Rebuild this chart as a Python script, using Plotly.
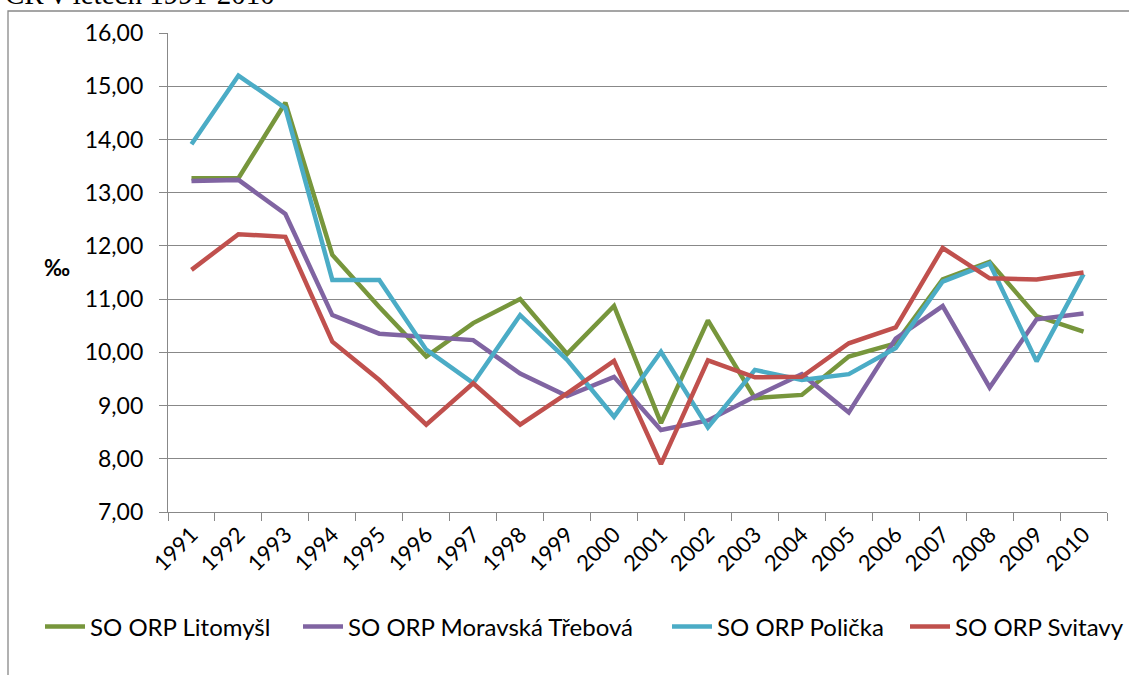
import plotly.graph_objects as go

years = [str(y) for y in range(1991, 2011)]
litomysl = [13.27, 13.27, 14.69, 11.83, 10.85, 9.92, 10.55, 11.00, 9.97, 10.87,
            8.67, 10.60, 9.14, 9.20, 9.92, 10.17, 11.37, 11.70, 10.68, 10.39]
moravska = [13.22, 13.24, 12.60, 10.70, 10.35, 10.30, 10.23, 9.60, 9.18, 9.54,
            8.54, 8.72, 9.17, 9.59, 8.87, 10.26, 10.87, 9.34, 10.62, 10.73]
policka = [13.91, 15.20, 14.59, 11.36, 11.36, 10.05, 9.42, 10.70, 9.86, 8.79,
           10.01, 8.59, 9.67, 9.48, 9.59, 10.08, 11.33, 11.67, 9.83, 11.47]
svitavy = [11.55, 12.22, 12.17, 10.20, 9.48, 8.64, 9.42, 8.64, 9.23, 9.84,
           7.90, 9.85, 9.53, 9.54, 10.17, 10.47, 11.96, 11.39, 11.37, 11.50]

series_names = ["SO ORP Litomyšl", "SO ORP Moravská Třebová", "SO ORP Polička", "SO ORP Svitavy"]
series_vals = [litomysl, moravska, policka, svitavy]
colors = ["#77963C", "#8064A2", "#4BACC6", "#C0504D"]
legend_ids = ["legend", "legend2", "legend3", "legend4"]
legend_px = [40, 298, 667, 905]

W, H = 1129, 675
ML, MR, MT, MB = 168, 22, 33, 163
PW = W - ML - MR
PH = H - MT - MB


def px_x(p):
    return (p - ML) / PW


def px_y(p):
    return (H - MB - p) / PH


fig = go.Figure()
for name, vals, c, lg in zip(series_names, series_vals, colors, legend_ids):
    fig.add_trace(go.Scatter(x=years, y=vals, name=name, mode="lines", legend=lg,
                             line=dict(color=c, width=4.5)))

font_family = "Lato, Carlito, Calibri, sans-serif"
grid_c = "#888888"

legend_layout = {}
for lg, lx in zip(legend_ids, legend_px):
    legend_layout[lg] = dict(orientation="h", x=px_x(lx), xanchor="left", y=px_y(627), yanchor="middle",
                             font=dict(family=font_family, size=24, color="black"),
                             itemwidth=40, bgcolor="rgba(0,0,0,0)")

fig.update_layout(
    width=W, height=H,
    margin=dict(l=ML, r=MR, t=MT, b=MB, pad=0, autoexpand=False),
    paper_bgcolor="white", plot_bgcolor="white",
    separators=", ",
    showlegend=True,
    **legend_layout,
    xaxis=dict(type="category", range=[-0.5, 19.5], showgrid=False,
               showline=True, linecolor=grid_c, linewidth=1.3,
               ticks="outside", tickson="boundaries", ticklen=8, tickcolor=grid_c, tickwidth=1.3,
               tickangle=-45, tickfont=dict(family=font_family, size=22, color="black"),
               automargin=False, fixedrange=True),
    yaxis=dict(range=[7, 16], dtick=1, tick0=7, tickformat=".2f",
               showgrid=True, gridcolor=grid_c, gridwidth=1.3,
               showline=True, linecolor=grid_c, linewidth=1.3,
               ticks="outside", ticklen=8, tickcolor=grid_c, tickwidth=1.3,
               ticklabelstandoff=11,
               tickfont=dict(family=font_family, size=23, color="black"),
               zeroline=False, automargin=False, fixedrange=True),
    shapes=[dict(type="rect", xref="paper", yref="paper",
                 x0=px_x(8), x1=px_x(1140), y0=px_y(690), y1=px_y(11),
                 line=dict(color="#888888", width=1.3), fillcolor="rgba(0,0,0,0)", layer="below")],
    annotations=[
        dict(text="<b>‰</b>", xref="paper", yref="paper", x=px_x(57), y=px_y(267),
             xanchor="center", yanchor="middle", showarrow=False,
             font=dict(family=font_family, size=22, color="black")),
        dict(text="ČR v letech 1991-2010", xref="paper", yref="paper", x=px_x(3), y=px_y(12),
             xanchor="left", yanchor="bottom", showarrow=False,
             font=dict(family="Liberation Serif, Times New Roman, serif", size=29, color="black")),
    ],
)

fig.write_html("out.html", config={"displayModeBar": False},
               post_script="document.body.style.margin='0';document.body.style.padding='0';"
                           "document.documentElement.style.overflow='hidden';")
